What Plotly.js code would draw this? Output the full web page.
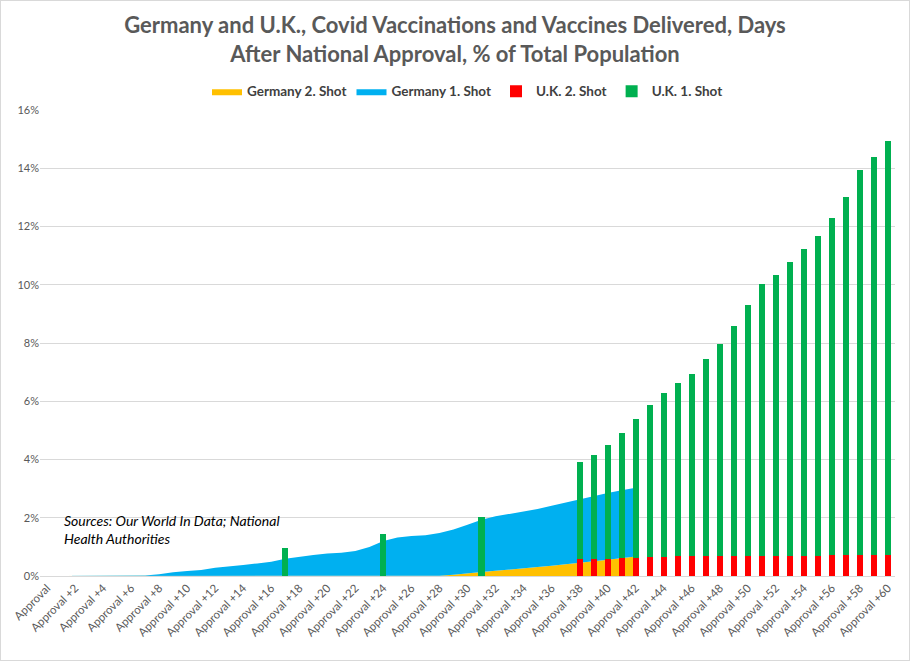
<!DOCTYPE html>
<html>
<head>
<meta charset="utf-8">
<script src="https://cdn.plot.ly/plotly-3.0.1.min.js"></script>
<style>
html,body{margin:0;padding:0;background:#fff;}
#wrap{width:910px;height:661px;box-sizing:border-box;border:1px solid #d9d9d9;}
#chart{width:908px;height:659px;}
</style>
</head>
<body>
<div id="wrap"><div id="chart"></div></div>
<script>
const categories = ["Approval","Approval +1","Approval +2","Approval +3","Approval +4","Approval +5","Approval +6","Approval +7","Approval +8","Approval +9","Approval +10","Approval +11","Approval +12","Approval +13","Approval +14","Approval +15","Approval +16","Approval +17","Approval +18","Approval +19","Approval +20","Approval +21","Approval +22","Approval +23","Approval +24","Approval +25","Approval +26","Approval +27","Approval +28","Approval +29","Approval +30","Approval +31","Approval +32","Approval +33","Approval +34","Approval +35","Approval +36","Approval +37","Approval +38","Approval +39","Approval +40","Approval +41","Approval +42","Approval +43","Approval +44","Approval +45","Approval +46","Approval +47","Approval +48","Approval +49","Approval +50","Approval +51","Approval +52","Approval +53","Approval +54","Approval +55","Approval +56","Approval +57","Approval +58","Approval +59","Approval +60"];

const tickLabels = ["Approval","Approval +2","Approval +4","Approval +6","Approval +8","Approval +10","Approval +12","Approval +14","Approval +16","Approval +18","Approval +20","Approval +22","Approval +24","Approval +26","Approval +28","Approval +30","Approval +32","Approval +34","Approval +36","Approval +38","Approval +40","Approval +42","Approval +44","Approval +46","Approval +48","Approval +50","Approval +52","Approval +54","Approval +56","Approval +58","Approval +60"];

// Germany (days Approval .. Approval +42), % of population
const germany2 = [0,0,0,0,0,0,0,0,0,0,0,0,0,0,0,0,0,0,0,0,0,0,0,0,0,0,0,0,0.01,0.04,0.10,0.14,0.18,0.23,0.28,0.31,0.35,0.41,0.46,0.51,0.56,0.61,0.67];
const germany1 = [0,0,0,0,0,0,0,0.02,0.06,0.13,0.17,0.21,0.28,0.32,0.38,0.43,0.49,0.59,0.66,0.72,0.77,0.80,0.86,1.00,1.20,1.32,1.37,1.40,1.47,1.56,1.66,1.79,1.87,1.90,1.92,1.99,2.06,2.11,2.18,2.23,2.29,2.33,2.36];

// U.K. (null = no data that day)
const uk2 = [null,null,null,null,null,null,null,null,null,null,null,null,null,null,null,null,null,0,null,null,null,null,null,null,0,null,null,null,null,null,null,0,null,null,null,null,null,null,0.57,0.60,0.60,0.63,0.63,0.64,0.64,0.67,0.67,0.67,0.67,0.67,0.67,0.67,0.67,0.67,0.67,0.67,0.71,0.71,0.71,0.71,0.71];
const uk1 = [null,null,null,null,null,null,null,null,null,null,null,null,null,null,null,null,null,0.95,null,null,null,null,null,null,1.45,null,null,null,null,null,null,2.03,null,null,null,null,null,null,3.35,3.56,3.90,4.28,4.77,5.24,5.64,5.96,6.27,6.79,7.30,7.92,8.64,9.36,9.67,10.12,10.57,11.01,11.59,12.31,13.24,13.69,14.24];

const gerCats = categories.slice(0, germany1.length);

const traces = [
  {x: gerCats, y: germany2, name: 'Germany 2. Shot', type: 'scatter', mode: 'lines',
   stackgroup: 'ger', line: {width: 0, color: '#FFC000'}, fillcolor: '#FFC000', hoverinfo: 'skip'},
  {x: gerCats, y: germany1, name: 'Germany 1. Shot', type: 'scatter', mode: 'lines',
   stackgroup: 'ger', line: {width: 0, color: '#00B0F0'}, fillcolor: '#00B0F0', hoverinfo: 'skip'},
  {x: categories, y: uk2, name: 'U.K. 2. Shot', type: 'bar', marker: {color: '#FF0000'},
   xaxis: 'x2', yaxis: 'y2', hoverinfo: 'skip'},
  {x: categories, y: uk1, name: 'U.K. 1. Shot', type: 'bar', marker: {color: '#00B050'},
   xaxis: 'x2', yaxis: 'y2', hoverinfo: 'skip'}
];

const fontFam = 'Lato, "Open Sans", sans-serif';
const xCommon = {
  type: 'category', categoryorder: 'array', categoryarray: categories,
  range: [-0.5, categories.length - 0.5], fixedrange: true
};
const yCommon = {range: [0, 16], fixedrange: true};

const layout = {
  width: 908, height: 659,
  margin: {l: 39, r: 14, t: 109, b: 84},
  paper_bgcolor: '#ffffff', plot_bgcolor: '#ffffff',
  font: {family: fontFam, color: '#595959'},
  title: {
    text: '<b>Germany and U.K., Covid Vaccinations and Vaccines Delivered, Days<br>After National Approval, % of Total Population</b>',
    font: {family: fontFam, size: 22, color: '#595959'},
    x: 0.5, xanchor: 'center', y: 0.951, yanchor: 'middle', yref: 'container'
  },
  showlegend: true,
  legend: {
    orientation: 'h', x: 0.5, xanchor: 'center', y: 1.04, yanchor: 'middle',
    traceorder: 'normal', itemwidth: 30,
    font: {family: fontFam, size: 13.5, color: '#404040', weight: 'bold'}
  },
  barmode: 'stack', bargap: 0.56,
  xaxis: Object.assign({}, xCommon, {
    tickmode: 'array', tickvals: tickLabels, ticktext: tickLabels,
    tickangle: -45, tickfont: {family: fontFam, size: 11.5, color: '#595959'},
    showgrid: false, showline: true, linecolor: '#d9d9d9', linewidth: 1,
    ticks: '', zeroline: false
  }),
  yaxis: Object.assign({}, yCommon, {
    dtick: 2, ticksuffix: '%', tickfont: {family: fontFam, size: 11, color: '#595959'},
    showgrid: true, gridcolor: '#d9d9d9', gridwidth: 1, zeroline: false, showline: false, ticks: ''
  }),
  xaxis2: Object.assign({}, xCommon, {overlaying: 'x', visible: false}),
  yaxis2: Object.assign({}, yCommon, {overlaying: 'y', visible: false}),
  annotations: [{
    text: '<i>Sources: Our World In Data; National<br>Health Authorities</i>',
    xref: 'paper', yref: 'y', x: 0.026, y: 1.6, xanchor: 'left', yanchor: 'middle',
    align: 'left', showarrow: false,
    font: {family: fontFam, size: 14, color: '#000000'}
  }]
};

Plotly.newPlot('chart', traces, layout, {displayModeBar: false, staticPlot: true});
</script>
</body>
</html>
